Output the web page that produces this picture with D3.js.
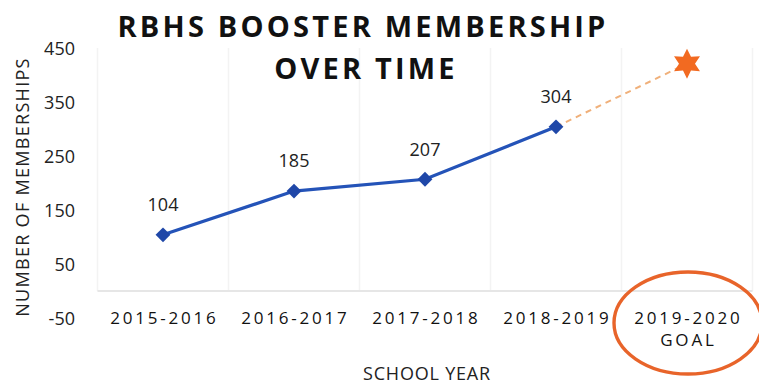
<!DOCTYPE html>
<html><head><meta charset="utf-8">
<script src="https://cdn.jsdelivr.net/npm/d3@7"></script>
<style>body{margin:0;background:#fff}svg{display:block}</style>
</head><body>
<script>
const categories = ["2015-2016","2016-2017","2017-2018","2018-2019","2019-2020"];
const categoryLines = [["2015-2016"],["2016-2017"],["2017-2018"],["2018-2019"],["2019-2020","GOAL"]];
const memberships = [104,185,207,304];
const goal = 421;
const yTicks = [-50,50,150,250,350,450];

const W=759,H=385;
const svg=d3.select("body").append("svg").attr("width",W).attr("height",H);
const x=d3.scaleBand().domain(categories).range([97.5,752.5]);
const y=d3.scaleLinear().domain([-50,450]).range([318,48]);
const cx=c=>x(c)+x.bandwidth()/2;
const F="Open Sans, sans-serif";

// faint vertical gridlines
const bounds=categories.map(c=>x(c)).concat([x.range()[1]]);
svg.selectAll(".vg").data(bounds).join("line")
 .attr("x1",d=>d).attr("x2",d=>d).attr("y1",y(450)).attr("y2",y(0))
 .attr("stroke","#f3f3f3").attr("stroke-width",1.5);
// baseline at 0
svg.append("line").attr("x1",x.range()[0]).attr("x2",x.range()[1]).attr("y1",y(0)).attr("y2",y(0))
 .attr("stroke","#e6e6e6").attr("stroke-width",2);

// y axis
const ya=svg.append("g").attr("transform","translate(75,0)")
 .call(d3.axisLeft(y).tickValues(yTicks).tickSize(0).tickPadding(0).tickFormat(d=>String(d)));
ya.select(".domain").remove();
ya.selectAll("text").attr("font-family",F).attr("font-size",18).attr("fill","#222").attr("dy","0.35em");

// x axis labels
const xa=svg.append("g").attr("transform","translate(0,318)")
 .call(d3.axisBottom(x).tickSize(0).tickFormat(()=>""));
xa.select(".domain").remove();
xa.selectAll(".tick").each(function(d,i){
  const t=d3.select(this).append("text").attr("text-anchor","middle")
   .attr("font-family",F).attr("font-size",17).attr("fill","#111")
   .attr("letter-spacing","2.8px");
  categoryLines[i].forEach((s,j)=>t.append("tspan").attr("x",1.4).attr("y",j*22).attr("dy","0.35em").text(s));
});

// dashed line to goal
const last=categories[3], gc=categories[4];
svg.append("line").attr("x1",cx(last)).attr("y1",y(memberships[3])).attr("x2",cx(gc)).attr("y2",y(goal))
 .attr("stroke","#f0b07a").attr("stroke-width",2).attr("stroke-dasharray","6,5");

// line
const line=d3.line().x((d,i)=>cx(categories[i])).y(d=>y(d));
svg.append("path").datum(memberships).attr("d",line).attr("fill","none")
 .attr("stroke","#2453b8").attr("stroke-width",3.2);
svg.selectAll(".pt").data(memberships).join("path")
 .attr("d",d3.symbol(d3.symbolSquare,110))
 .attr("transform",(d,i)=>`translate(${cx(categories[i])},${y(d)}) rotate(45)`)
 .attr("fill","#1f47a8");
// data labels
svg.selectAll(".lbl").data(memberships).join("text")
 .attr("x",(d,i)=>cx(categories[i])).attr("y",d=>y(d)-30)
 .attr("dy","0.35em")
 .attr("text-anchor","middle").attr("font-family",F).attr("font-size",18).attr("fill","#222")
 .text(d=>d);

// star (6-pointed)
const starPts=[];
for(let k=0;k<12;k++){const r=k%2?8:15;const a=-Math.PI/2+k*Math.PI/6;starPts.push([r*Math.cos(a),r*Math.sin(a)]);}
svg.append("path").attr("d",d3.line()(starPts)+"Z")
 .attr("transform",`translate(${cx(gc)},${y(goal)})`).attr("fill","#f26a21");

// ellipse
svg.append("ellipse").attr("cx",cx(gc)+1).attr("cy",323).attr("rx",74).attr("ry",51)
 .attr("fill","none").attr("stroke","#e8642a").attr("stroke-width",3.4);

// title
const tt=svg.append("text").attr("text-anchor","middle").attr("font-family",F)
 .attr("font-weight","bold").attr("font-size",29).attr("fill","#111").attr("letter-spacing","3.2px");
tt.append("tspan").attr("x",363).attr("y",37).text("RBHS BOOSTER MEMBERSHIP");
tt.append("tspan").attr("x",366).attr("y",79).text("OVER TIME");

// axis titles
svg.append("text").attr("transform","translate(29,187) rotate(-90)").attr("text-anchor","middle")
 .attr("font-family",F).attr("font-size",18).attr("fill","#222").attr("letter-spacing","1.3px")
 .text("NUMBER OF MEMBERSHIPS");
svg.append("text").attr("x",427).attr("y",380).attr("text-anchor","middle")
 .attr("font-family",F).attr("font-size",18).attr("fill","#222").attr("letter-spacing","0.8px")
 .text("SCHOOL YEAR");
</script>
</body></html>
